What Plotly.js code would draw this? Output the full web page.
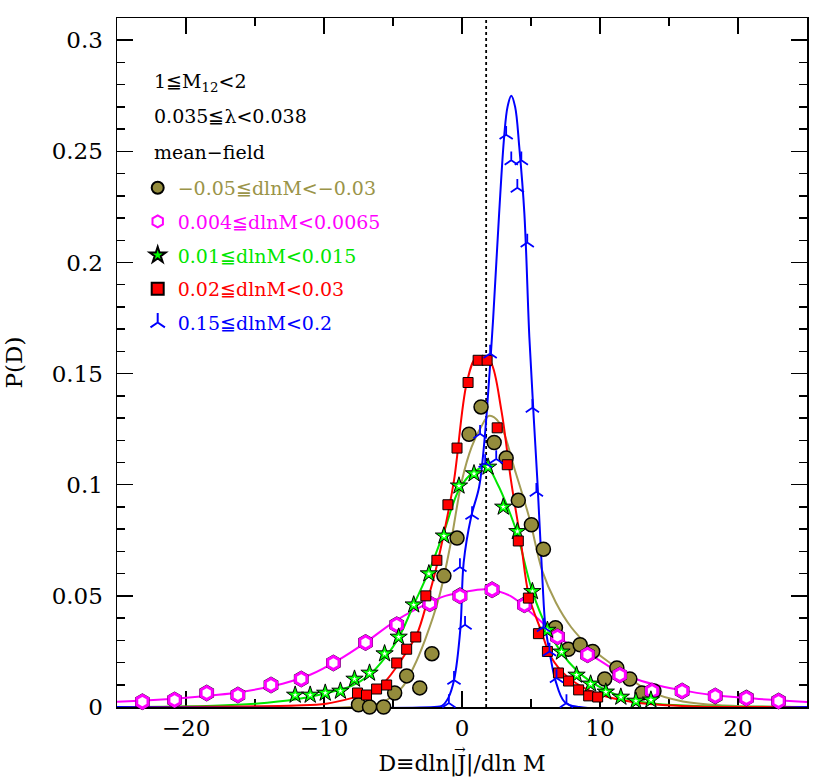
<!DOCTYPE html>
<html>
<head>
<meta charset="utf-8">
<script src="https://cdn.plot.ly/plotly-3.0.1.min.js"></script>
<style>
  html, body { margin: 0; padding: 0; background: #fff; }
</style>
</head>
<body>
<div id="chart" style="width:830px;height:777px"></div>
<script>
// Constants
const CHART_ELEM_ID = "chart";
const FONT = "DejaVu Serif, Liberation Serif, serif";

// Data: -0.05 <= dlnM < -0.03
const olivePointsX = [-7.5, -6.7, -5.68, -4.88, -4.01, -3.06, -2.18, -1.31, -0.36, 0.51, 1.38, 2.33, 3.2, 4.08, 5.03, 5.9, 6.77, 7.7, 8.56, 9.47, 10.34, 11.22, 12.16, 13.04, 13.91];
const olivePointsY = [0.001, 0, 0, 0.0063, 0.014, 0.0086, 0.024, 0.059, 0.076, 0.1227, 0.135, 0.119, 0.112, 0.093, 0.082, 0.071, 0.0357, 0.026, 0.028, 0.025, 0.0126, 0.0176, 0.0126, 0.0063, 0.0072];
const oliveFitX = [-25, -8, -5.83, -4.37, -3.5, -2.69, -1.68, -0.87, 0, 0.7, 1.38, 1.97, 2.69, 3.86, 4.88, 5.83, 6.8, 7.9, 9.25, 10.9, 13.6, 16, 19, 25];
const oliveFitY = [0, 0, 0.002, 0.0086, 0.018, 0.03, 0.049, 0.072, 0.102, 0.117, 0.126, 0.131, 0.128, 0.106, 0.085, 0.061, 0.047, 0.036, 0.027, 0.019, 0.007, 0.0025, 0.0007, 0];

// Data: 0.004 <= dlnM < 0.0065
const magentaPointsX = [-23.16, -20.83, -18.5, -16.24, -13.84, -11.65, -9.32, -6.99, -4.73, -2.33, -0.15, 2.18, 4.52, 6.92, 9.1, 11.43, 13.77, 15.95, 18.35, 20.61, 22.94];
const magentaPointsY = [0.0024, 0.0032, 0.0063, 0.0054, 0.0099, 0.0126, 0.0198, 0.029, 0.037, 0.0465, 0.05, 0.0528, 0.046, 0.0316, 0.0235, 0.0144, 0.0072, 0.0072, 0.005, 0.004, 0.0027];
const magentaFitX = [-25, -20, -16, -13, -11, -9, -7, -5, -3, -1.2, 0, 1.75, 3.5, 4.9, 6, 7.3, 8.5, 9.7, 11, 12.2, 14, 15.8, 18, 20.6, 25];
const magentaFitY = [0.0024, 0.0042, 0.0068, 0.0105, 0.0145, 0.021, 0.029, 0.038, 0.045, 0.05, 0.0515, 0.053, 0.05, 0.043, 0.037, 0.03, 0.026, 0.022, 0.017, 0.0135, 0.01, 0.0077, 0.0055, 0.004, 0.0023];

// Data: 0.01 <= dlnM < 0.015
const greenPointsX = [-12.09, -11.0, -9.91, -8.81, -7.79, -6.7, -5.61, -4.59, -3.5, -2.4, -1.31, -0.22, 0.87, 1.89, 2.99, 4.01, 5.1, 6.19, 7.21, 8.3, 9.32, 10.42, 11.51, 12.6, 13.69];
const greenPointsY = [0.0054, 0.0054, 0.0063, 0.0072, 0.0126, 0.0153, 0.024, 0.0315, 0.046, 0.06, 0.077, 0.0995, 0.105, 0.108, 0.09, 0.079, 0.052, 0.0346, 0.0248, 0.0144, 0.0104, 0.0068, 0.0045, 0.0027, 0.0032];
const greenFitX = [-25, -18, -15, -12, -10, -8, -6.7, -5.6, -4.6, -3.5, -2.4, -1.3, -0.2, 0.9, 1.8, 2.6, 3.3, 4.0, 5.1, 6.2, 7.2, 8.3, 9.3, 10.4, 12.3, 14, 17, 25];
const greenFitY = [0, 0.0006, 0.0015, 0.0035, 0.006, 0.0095, 0.0145, 0.022, 0.031, 0.046, 0.061, 0.079, 0.098, 0.106, 0.108, 0.1, 0.09, 0.078, 0.052, 0.035, 0.0245, 0.0165, 0.0115, 0.0077, 0.003, 0.0015, 0.0005, 0];

// Data: 0.02 <= dlnM < 0.03
const redPointsX = [-7.57, -6.92, -6.19, -5.46, -4.73, -4.01, -3.35, -2.62, -1.82, -1.02, -0.36, 0.44, 1.17, 1.82, 2.55, 3.28, 4.08, 4.81, 5.54, 6.19, 6.99, 7.72, 8.45, 9.18, 9.83];
const redPointsY = [0.0063, 0.0054, 0.0081, 0.0099, 0.0198, 0.026, 0.0315, 0.05, 0.066, 0.091, 0.1165, 0.146, 0.156, 0.156, 0.1256, 0.109, 0.0747, 0.049, 0.033, 0.025, 0.0153, 0.0117, 0.0077, 0.005, 0.0045];
const redFitX = [-25, -12, -9.85, -8, -6.95, -5.65, -4.75, -4, -3.25, -2.5, -1.85, -1.25, -0.58, 0.35, 1.0, 1.6, 2.1, 2.85, 3.55, 4.25, 4.85, 5.75, 6.45, 7.65, 9.65, 12.35, 15.95, 25];
const redFitY = [0, 0.0007, 0.0015, 0.004, 0.006, 0.011, 0.018, 0.025, 0.033, 0.048, 0.063, 0.08, 0.102, 0.146, 0.157, 0.1575, 0.155, 0.1336, 0.102, 0.075, 0.05, 0.034, 0.0225, 0.0135, 0.0063, 0.0023, 0.0005, 0];

// Data: 0.15 <= dlnM < 0.2
const bluePointsX = [-0.95, -0.58, -0.15, 0.22, 0.73, 1.31, 1.68, 2.04, 2.48, 3.2, 3.57, 4.01, 4.3, 4.73, 5.1, 5.39, 5.9, 6.34, 6.85, 7.57];
const bluePointsY = [0.0018, 0.0122, 0.063, 0.037, 0.0864, 0.1229, 0.1098, 0.159, 0.1116, 0.2575, 0.246, 0.2336, 0.246, 0.209, 0.1346, 0.0968, 0.036, 0.025, 0.013, 0.0018];
const blueFitX = [-25, -2, -1.46, -1.0, -0.58, -0.12, 0.12, 0.66, 1.24, 1.6, 1.97, 2.26, 2.69, 3.06, 3.3, 3.57, 3.85, 4.15, 4.52, 4.88, 5.2, 5.46, 5.83, 6.05, 6.41, 6.77, 7.43, 8.5, 25];
const blueFitY = [0, 0, 0.0005, 0.004, 0.012, 0.035, 0.065, 0.0855, 0.099, 0.118, 0.148, 0.175, 0.222, 0.257, 0.27, 0.275, 0.27, 0.252, 0.222, 0.1665, 0.13, 0.102, 0.057, 0.036, 0.0225, 0.012, 0.0023, 0, 0];

// mean D (dotted line)
const meanD = 1.75;

// Texts
const headerLines = ["1≦M<sub>12</sub>&lt;2", "0.035≦λ&lt;0.038", "mean−field"];
const seriesLabels = [
  "−0.05≦dlnM&lt;−0.03",
  "0.004≦dlnM&lt;0.0065",
  "0.01≦dlnM&lt;0.015",
  "0.02≦dlnM&lt;0.03",
  "0.15≦dlnM&lt;0.2",
];
const seriesColors = ["#9a9448", "#ff00ff", "#00e600", "#ff0000", "#0000ff"];
const xTitle = "D≡dln|J|/dln M";
const yTitle = "P(D)";

/**
 * @description fitted curve, no legend
 */
function fitTrace(x, y, color) {
  return {
    x: x,
    y: y,
    mode: "lines",
    type: "scatter",
    line: { color: color, width: 2, shape: "spline", smoothing: 1 },
    showlegend: false,
    hoverinfo: "skip",
  };
}

/**
 * @description measured points
 */
function pointsTrace(x, y, idx, marker, inLegend) {
  return {
    x: x,
    y: y,
    mode: "markers",
    type: "scatter",
    name: `<span style="color:${seriesColors[idx]}">${seriesLabels[idx]}</span>`,
    legendgroup: "g" + idx,
    marker: marker,
    cliponaxis: false,
    showlegend: inLegend,
  };
}

const traces = [
  fitTrace(oliveFitX, oliveFitY, "#a39c55"),
  fitTrace(magentaFitX, magentaFitY, "#ff00ff"),
  fitTrace(greenFitX, greenFitY, "#00e600"),
  fitTrace(redFitX, redFitY, "#ff0000"),
  fitTrace(blueFitX, blueFitY, "#0000ff"),

  pointsTrace(olivePointsX, olivePointsY, 0, {
    symbol: "circle", size: 14, color: "#948c3c", line: { color: "#000", width: 1.5 },
  }, true),

  // hexagon: black rim under a magenta ring with white centre
  pointsTrace(magentaPointsX, magentaPointsY, 1, {
    symbol: "hexagon", size: 17, color: "#000",
  }, false),
  pointsTrace(magentaPointsX, magentaPointsY, 1, {
    symbol: "hexagon", size: 13, color: "#fff", line: { color: "#ff00ff", width: 3 },
  }, true),

  pointsTrace(greenPointsX, greenPointsY, 2, {
    symbol: "star", size: 13, color: "#00ff00", line: { color: "#000", width: 1 },
  }, true),
  pointsTrace(greenPointsX, greenPointsY, 2, {
    symbol: "star", size: 4, color: "#fff",
  }, false),

  pointsTrace(redPointsX, redPointsY, 3, {
    symbol: "square", size: 10, color: "#ff0000", line: { color: "#000", width: 1 },
  }, true),

  pointsTrace(bluePointsX, bluePointsY, 4, {
    symbol: "y-up", size: 11, color: "#0000ff", line: { color: "#0000ff", width: 1.8 },
  }, true),
];

// header text lines in the upper left corner
const headerY = [0.906, 0.858, 0.806];
const annotations = headerLines.map((t, i) => ({
  text: t,
  xref: "paper",
  yref: "paper",
  x: 0.05,
  y: headerY[i],
  xanchor: "left",
  yanchor: "middle",
  showarrow: false,
  font: { family: FONT, size: 19, color: "#000" },
}));

// vector arrow over the J of the x title
annotations.push({
  text: "→",
  xref: "paper",
  yref: "paper",
  x: 0.497,
  y: -0.061,
  xanchor: "center",
  yanchor: "middle",
  showarrow: false,
  font: { family: FONT, size: 14, color: "#000" },
});

const axisCommon = {
  showline: true,
  linecolor: "#000",
  linewidth: 1.5,
  mirror: "allticks",
  ticks: "inside",
  ticklen: 16,
  tickwidth: 1.5,
  tickcolor: "#000",
  showgrid: false,
  zeroline: false,
  layer: "below traces",
  tickfont: { family: FONT, size: 23, color: "#000" },
};

const layout = {
  width: 830,
  height: 777,
  margin: { l: 117, r: 23, t: 18, b: 70 },
  paper_bgcolor: "#fff",
  plot_bgcolor: "#fff",
  font: { family: FONT, color: "#000" },
  xaxis: Object.assign({}, axisCommon, {
    range: [-25, 25],
    tick0: 0,
    dtick: 10,
    minor: { dtick: 5, ticks: "inside", ticklen: 8, tickwidth: 1.5, tickcolor: "#000" },
    title: {
      text: xTitle,
      font: { family: FONT, size: 22 },
      standoff: 23,
    },
  }),
  yaxis: Object.assign({}, axisCommon, {
    range: [0, 0.31],
    tick0: 0,
    dtick: 0.05,
    ticklabelstandoff: 8,
    minor: { dtick: 0.01, ticks: "inside", ticklen: 8, tickwidth: 1.5, tickcolor: "#000" },
    title: {
      text: yTitle,
      font: { family: FONT, size: 23 },
      standoff: 22,
    },
  }),
  shapes: [
    {
      type: "line",
      xref: "x",
      yref: "paper",
      x0: meanD,
      x1: meanD,
      y0: 0,
      y1: 1,
      line: { color: "#000", width: 1.8, dash: "dot" },
      layer: "below",
    },
  ],
  annotations: annotations,
  showlegend: true,
  legend: {
    x: 0.03,
    y: 0.781,
    xanchor: "left",
    yanchor: "top",
    bgcolor: "rgba(0,0,0,0)",
    font: { family: FONT, size: 19 },
    tracegroupgap: 6,
    itemsizing: "constant",
  },
};

const config = { responsive: false, displayModeBar: false, staticPlot: true };

Plotly.newPlot(CHART_ELEM_ID, traces, layout, config);
</script>
</body>
</html>
